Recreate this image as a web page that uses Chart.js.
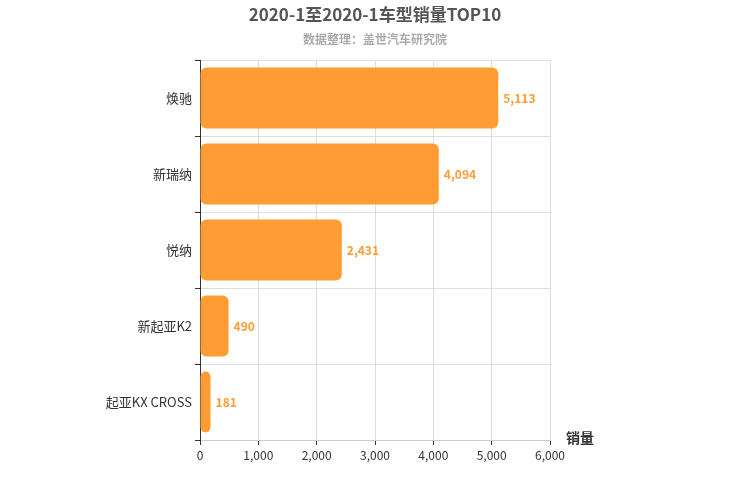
<!DOCTYPE html>
<html><head><meta charset="utf-8">
<script src="https://cdn.jsdelivr.net/npm/chart.js@4"></script>
<style>html,body{margin:0;padding:0;background:#fff}#w{width:750px;height:500px}</style>
</head><body><div id="w"><canvas id="c"></canvas></div>
<script>
const categories = ["焕驰","新瑞纳","悦纳","新起亚K2","起亚KX CROSS"];
const sales = [5113,4094,2431,490,181];
const titleText = "2020-1至2020-1车型销量TOP10";
const subtitleText = "数据整理：盖世汽车研究院";
const axisTitle = "销量";
const FONT = "'Noto Sans CJK SC','Noto Sans',sans-serif";
const deco = {
  id:'deco',
  afterDraw(chart){
    const ctx=chart.ctx; ctx.save();
    ctx.textAlign='center'; ctx.textBaseline='middle';
    ctx.fillStyle='#555'; ctx.font="bold 17px "+FONT;
    ctx.fillText(titleText,375,15);
    ctx.fillStyle='#aaa'; ctx.font="bold 12px "+FONT;
    ctx.fillText(subtitleText,375,39);
    ctx.fillStyle='#333'; ctx.font="bold 14px "+FONT;
    ctx.fillText(axisTitle,580,438);
    const meta=chart.getDatasetMeta(0);
    ctx.textAlign='left'; ctx.fillStyle='#ff9c33'; ctx.font="bold 12px "+FONT;
    meta.data.forEach((el,i)=>{
      ctx.fillText(sales[i].toLocaleString('en-US'),el.x+5,el.y);
    });
    ctx.restore();
  }
};
new Chart(document.getElementById('c'),{
  type:'bar',
  data:{labels:categories,datasets:[{data:sales,backgroundColor:'#ff9c33',borderRadius:6,borderSkipped:false,categoryPercentage:0.8,barPercentage:1}]},
  options:{
    indexAxis:'y',responsive:true,maintainAspectRatio:false,animation:false,
    layout:{padding:{left:0,right:200,top:60,bottom:0}},
    plugins:{legend:{display:false},tooltip:{enabled:false}},
    scales:{
      x:{min:0,max:6000,ticks:{stepSize:1000,color:'#333',font:{size:12,family:FONT},callback:v=>v.toLocaleString('en-US')},
         grid:{color:'#ddd',tickLength:5,tickColor:'#333'},border:{color:'#ccc'},
         afterFit(s){s.height=60;}},
      y:{ticks:{color:'#333',font:{size:13,family:FONT}},
         grid:{color:'#ddd',offset:true,tickLength:5,tickColor:'#333'},border:{color:'#333'},
         afterFit(s){s.width=200;}}
    }
  },
  plugins:[deco]
});
</script></body></html>
